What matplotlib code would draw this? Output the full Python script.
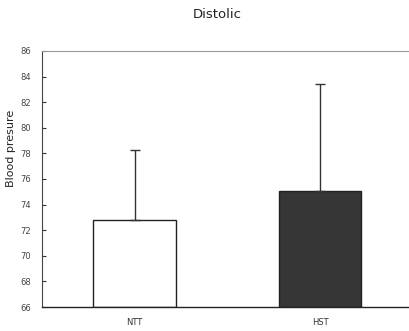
import matplotlib
matplotlib.use("Agg")
from matplotlib import pyplot as plt

groups = ["NTT", "HST"]
means = [72.8, 75.1]
sd_upper = [5.5, 8.3]
yticks = [66, 68, 70, 72, 74, 76, 78, 80, 82, 84, 86]

def plot_distolic():
    fig = plt.figure(figsize=(4.10, 3.31), dpi=100)
    ax = fig.add_axes([0.1024, 0.0725, 0.8976, 0.7735])

    x = list(range(len(groups)))
    ax.bar(x, [m - 66 for m in means], bottom=66, width=0.445,
           color=["white", "#363636"], edgecolor="#222222", linewidth=1.0, zorder=2)
    # only the upper half of the SD is shown
    ax.errorbar(x, means, yerr=[[0] * len(means), sd_upper], fmt="none",
                ecolor="#333333", elinewidth=1.0, capsize=3.5, capthick=1.0, zorder=3)

    ax.set_ylim(66, 86)
    ax.set_xlim(-0.5, 1.486)
    ax.set_yticks(yticks)
    ax.set_yticklabels([str(t) for t in yticks], fontsize=6, color="#444444")
    ax.set_xticks(x)
    ax.set_xticklabels(groups, fontsize=6, color="#333333")
    ax.tick_params(axis="y", direction="in", length=3, width=0.8, pad=8, color="#333333")
    ax.tick_params(axis="x", length=0, pad=8)

    ax.spines["right"].set_visible(False)
    ax.spines["top"].set_color("#999999")
    ax.spines["top"].set_linestyle((0, (2, 1)))
    ax.spines["top"].set_linewidth(0.8)
    ax.spines["left"].set_color("#444444")
    ax.spines["bottom"].set_color("#222222")
    ax.spines["bottom"].set_linewidth(1.0)

    fig.text(217 / 410, 1 - 15 / 331, "Distolic", ha="center", va="center",
             fontsize=9.5, color="#222222")
    fig.text(11 / 410, 1 - 148 / 331, "Blood presure", ha="center", va="center",
             rotation=90, fontsize=8, color="#222222")

    fig.savefig("out.png", dpi=100)
    plt.close(fig)

if __name__ == "__main__":
    plot_distolic()
